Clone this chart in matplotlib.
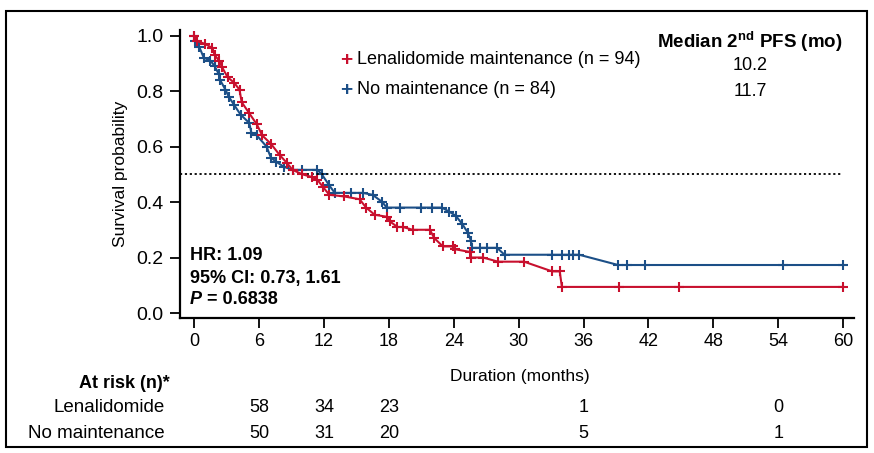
import matplotlib.pyplot as plt
from matplotlib.patches import Rectangle

# Kaplan-Meier style curves
len_t = [0, 0.3, 1.0, 1.7, 1.9, 2.3, 2.6, 3.1, 3.7, 4.2, 4.4, 5.1, 5.8, 6.3, 7.1, 7.9,
         8.6, 9.1, 10.0, 10.9, 11.4, 11.9, 12.5, 13.9, 15.3, 15.9, 16.7, 17.8, 18.1, 18.8,
         19.3, 20.2, 21.8, 22.2, 23.0, 23.9, 24.1, 25.5, 25.6, 26.7, 28.1, 30.5, 33.1,
         33.8, 34.0, 39.3, 44.8, 60]
len_s = [1.0, 0.98, 0.97, 0.955, 0.93, 0.91, 0.885, 0.85, 0.83, 0.805, 0.76, 0.72, 0.68,
         0.64, 0.61, 0.57, 0.54, 0.516, 0.50, 0.49, 0.48, 0.455, 0.426, 0.42, 0.41, 0.38,
         0.354, 0.347, 0.33, 0.31, 0.31, 0.30, 0.30, 0.27, 0.24, 0.24, 0.23, 0.22, 0.20,
         0.20, 0.185, 0.185, 0.15, 0.15, 0.094, 0.094, 0.094, 0.094]

no_t = [0, 0.1, 0.5, 0.9, 1.5, 1.9, 2.3, 2.4, 2.9, 3.2, 3.7, 4.3, 5.1, 5.3, 5.8, 6.7, 7.1,
        7.6, 8.3, 9.1, 10.0, 11.4, 11.8, 12.5, 13.0, 14.5, 15.6, 16.5, 17.4, 17.8, 19.0,
        21.0, 22.0, 22.9, 23.6, 24.2, 24.8, 25.3, 25.6, 25.7, 26.4, 27.1, 28.0, 28.7,
        33.1, 34.0, 34.7, 35.0, 35.6, 39.2, 40.0, 41.7, 54.4, 60]
no_s = [1.0, 0.98, 0.957, 0.92, 0.91, 0.89, 0.86, 0.84, 0.805, 0.78, 0.75, 0.715, 0.685,
        0.65, 0.64, 0.60, 0.56, 0.545, 0.527, 0.516, 0.516, 0.516, 0.50, 0.46, 0.433,
        0.433, 0.433, 0.426, 0.40, 0.38, 0.38, 0.38, 0.38, 0.38, 0.365, 0.35, 0.32, 0.29,
        0.26, 0.235, 0.235, 0.235, 0.235, 0.21, 0.21, 0.21, 0.21, 0.21, 0.21, 0.173,
        0.173, 0.173, 0.173, 0.173]

risk_times = [6, 12, 18, 36, 54]
risk_len = [58, 34, 23, 1, 0]
risk_no = [50, 31, 20, 5, 1]

xticks = list(range(0, 61, 6))
yticks = [0.0, 0.2, 0.4, 0.6, 0.8, 1.0]

red = "#C8102E"
blue = "#1C4F87"

plt.rcParams["font.family"] = ["Liberation Sans", "DejaVu Sans"]
plt.rcParams["mathtext.fontset"] = "custom"
plt.rcParams["mathtext.bf"] = "Liberation Sans:bold"
plt.rcParams["mathtext.rm"] = "Liberation Sans"

W, H = 874, 453
fig = plt.figure(figsize=(8.74, 4.53), dpi=100)
ax = fig.add_axes([180/W, 1-318/H, 674/W, 288/H])

def px(x, y):
    return x / W, 1 - y / H

ax.plot(len_t, len_s, color=red, lw=1.5, marker="+", ms=7, mew=1.5, zorder=3)
ax.plot(no_t, no_s, color=blue, lw=1.5, marker="+", ms=7, mew=1.5, zorder=2)
ax.plot([-1.3, 60], [0.5, 0.5], color="black", lw=1.3, ls=(0, (1.2, 1.5)))

ax.set_xlim(-1.3, 61)
ax.set_ylim(-0.018, 1.02)
ax.set_xticks(xticks)
ax.set_yticks(yticks)
ax.set_yticklabels([f"{v:.1f}" for v in yticks], fontsize=14)
ax.set_xticklabels([str(v) for v in xticks], fontsize=13)
ax.tick_params(length=7, width=1.3)
ax.tick_params(axis="y", pad=5)
for s in ["top", "right"]:
    ax.spines[s].set_visible(False)
for s in ["left", "bottom"]:
    ax.spines[s].set_linewidth(1.6)

ax.set_ylabel("Survival probability", fontsize=12.5, labelpad=6)

# legend and medians
fig.text(*px(340, 60), "+", color=red, fontsize=15, va="center", fontweight="bold")
fig.text(*px(357, 60), "Lenalidomide maintenance (n = 94)", fontsize=13, va="center")
fig.text(*px(340, 90), "+", color=blue, fontsize=15, va="center", fontweight="bold")
fig.text(*px(357, 90), "No maintenance (n = 84)", fontsize=13, va="center")
fig.text(*px(750, 42), r"Median 2$^{\mathbf{nd}}$ PFS (mo)", fontsize=13.5,
         fontweight="bold", ha="center", va="center")
fig.text(*px(750, 65), "10.2", fontsize=13, ha="center", va="center")
fig.text(*px(750, 92), "11.7", fontsize=13, ha="center", va="center")

# HR box
fig.text(*px(190, 256), "HR: 1.09", fontsize=13, fontweight="bold", va="center")
fig.text(*px(190, 278), "95% CI: 0.73, 1.61", fontsize=13, fontweight="bold", va="center")
p_txt = fig.text(*px(190, 300), "P", fontsize=13, fontweight="bold", style="italic",
                 va="center")
fig.canvas.draw()
bb = p_txt.get_window_extent()
fig.text(bb.x1 / W, 1 - 300/H, " = 0.6838", fontsize=13, fontweight="bold", va="center")

# x label and risk table
fig.text(*px(520, 377), "Duration (months)", fontsize=12.5, ha="center", va="center")
fig.text(*px(170, 383), "At risk (n)*", fontsize=13, fontweight="bold",
         ha="right", va="center")
fig.text(*px(165, 408), "Lenalidomide", fontsize=13.5, ha="right", va="center")
fig.text(*px(165, 433), "No maintenance", fontsize=13.5, ha="right", va="center")
for t, a, b in zip(risk_times, risk_len, risk_no):
    ax.annotate(str(a), (t, 0), xycoords=("data", "axes fraction"),
                xytext=(0, -(408-318)), textcoords="offset pixels",
                ha="center", va="center", fontsize=13)
    ax.annotate(str(b), (t, 0), xycoords=("data", "axes fraction"),
                xytext=(0, -(433-318)), textcoords="offset pixels",
                ha="center", va="center", fontsize=13)

fig.patches.append(Rectangle(px(6, 447), 861/W, 436/H, fill=False,
                             edgecolor="black", lw=1.5, transform=fig.transFigure))

fig.savefig("out.png", dpi=100)
